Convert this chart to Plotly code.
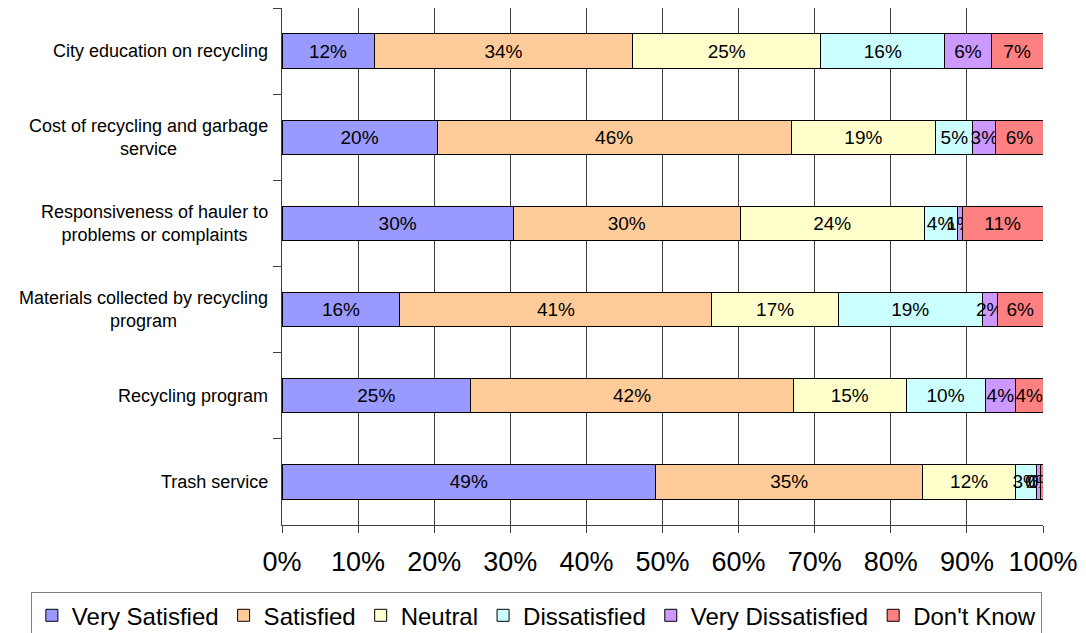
import plotly.graph_objects as go

categories = ["City education on recycling",
              "Cost of recycling and garbage<br>service",
              "Responsiveness of hauler to<br>problems or complaints",
              "Materials collected by recycling<br>program",
              "Recycling program",
              "Trash service"]

very_satisfied = [12.1, 20.4, 30.4, 15.5, 24.8, 49.1]
satisfied = [34.0, 46.5, 29.8, 41.0, 42.4, 35.1]
neutral = [24.7, 19.0, 24.2, 16.6, 14.8, 12.2]
dissatisfied = [16.3, 4.9, 4.3, 18.9, 10.4, 2.8]
very_dissatisfied = [6.1, 3.0, 0.7, 2.0, 4.0, 0.5]
dont_know = [6.8, 6.2, 10.6, 6.0, 3.6, 0.3]

series = [("Very Satisfied", very_satisfied, "#9999FF"),
          ("Satisfied", satisfied, "#FFCC99"),
          ("Neutral", neutral, "#FFFFCC"),
          ("Dissatisfied", dissatisfied, "#CCFFFF"),
          ("Very Dissatisfied", very_dissatisfied, "#CC99FF"),
          ("Don't Know", dont_know, "#FF8080")]

font = "Arial, Liberation Sans, sans-serif"

fig = go.Figure()
for name, vals, col in series:
    fig.add_trace(go.Bar(
        y=categories, x=vals, name=name, orientation='h',
        marker=dict(color=col, line=dict(color="black", width=1)),
        text=[f"{v:.0f}%" for v in vals],
        textposition='inside', insidetextanchor='middle', textangle=0,
        constraintext='none',
        textfont=dict(family=font, size=19, color="black"),
        width=0.4))

# category labels, centred lines like the original
for c in categories:
    fig.add_annotation(x=0, y=c, xref="paper", yref="y", xanchor="right",
                       align="center", text=c, showarrow=False, xshift=-12,
                       font=dict(family=font, size=18, color="black"))

fig.update_layout(
    barmode='stack',
    width=1086, height=633,
    margin=dict(l=282, r=43, t=8, b=108, autoexpand=False),
    plot_bgcolor="white", paper_bgcolor="white",
    font=dict(family=font, color="black"),
    legend=dict(orientation='h', x=-0.33, xanchor='left', y=-0.13, yanchor='top',
                font=dict(size=24), bordercolor="#808080", borderwidth=1,
                traceorder='normal', itemwidth=30),
    xaxis=dict(range=[0, 100], dtick=10, ticksuffix="%", showgrid=True,
               gridcolor="#404040", gridwidth=1, showline=True, linecolor="#404040",
               ticks="outside", ticklen=7, tickcolor="#404040", automargin=False,
               ticklabelstandoff=6, tickfont=dict(size=27), zeroline=False),
    yaxis=dict(autorange='reversed', showticklabels=False, showline=True,
               linecolor="#404040", ticks="outside", tickson="boundaries",
               ticklen=8, tickcolor="#404040", showgrid=False, automargin=False),
)

fig.write_html("out.html", config={"displayModeBar": False},
               post_script="document.body.style.margin='0';")
